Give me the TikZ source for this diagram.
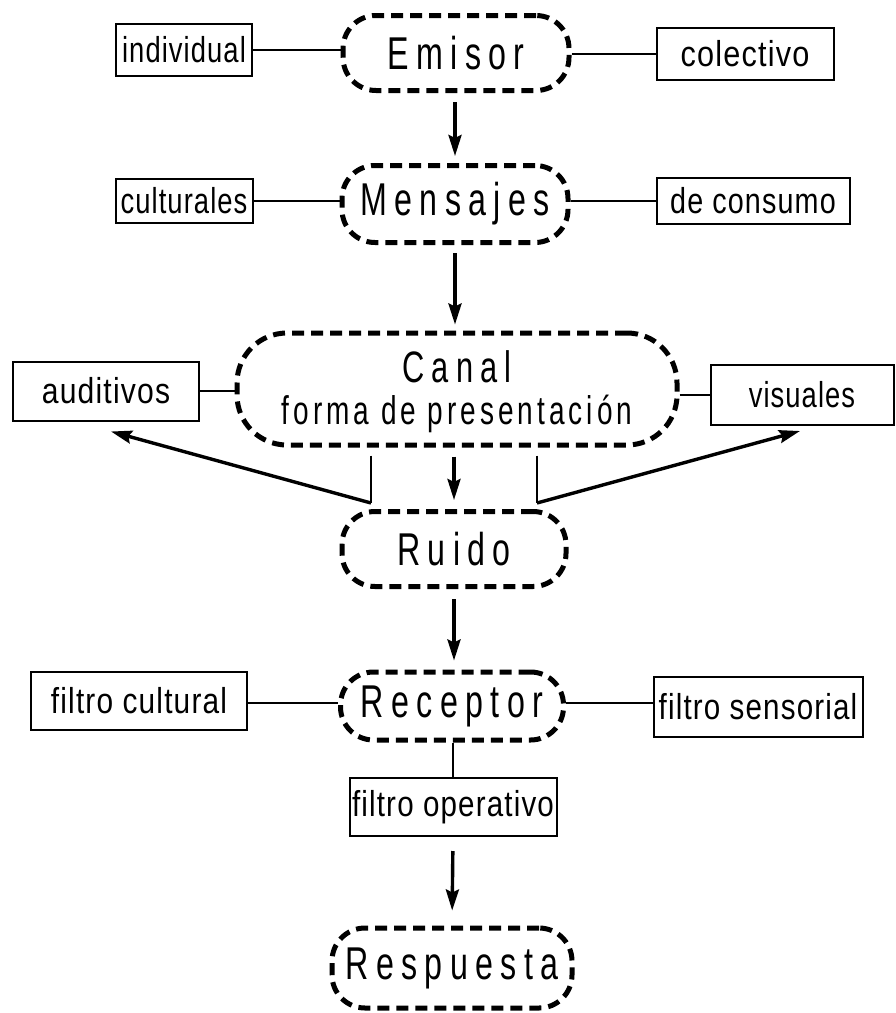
\documentclass[tikz,border=0pt]{standalone}
\usepackage{graphicx}
\usepackage{fontspec}
\setmainfont[FakeStretch=0.76,LetterSpace=3]{Liberation Sans}
\newfontfamily\bigf[FakeStretch=0.7,LetterSpace=16]{Liberation Sans}
\newfontfamily\medf[FakeStretch=0.7,LetterSpace=10]{Liberation Sans}
\usetikzlibrary{arrows.meta}
\newcommand{\hsq}[2]{\scalebox{#1}[1]{#2}}
\begin{document}
\begin{tikzpicture}[x=1pt,y=-1pt,
 main/.style={draw, line width=5pt, dash pattern=on 12pt off 7pt, rounded corners=33pt, inner sep=0pt, font=\bigf\fontsize{46}{50}\selectfont},
 lbl/.style={draw, line width=2pt, inner sep=0pt, font=\fontsize{36}{40}\selectfont},
 conn/.style={line width=2.6pt},
 arr/.style={line width=3.4pt, -{Stealth[length=21pt,width=13pt,inset=3pt]}}]
\useasboundingbox (0,0) rectangle (896,1013);

\node[main, minimum width=226, minimum height=75] (emisor) at (456,53) {Emisor};
\node[lbl, minimum width=136, minimum height=52] (individual) at (184,50) {individual};
\node[lbl, minimum width=177, minimum height=52] (colectivo) at (745,54) {\hsq{1.12}{colectivo}};

\node[main, minimum width=226, minimum height=77] (mensajes) at (455,204) {Mensajes};
\node[lbl, minimum width=137, minimum height=44] (culturales) at (184,201) {culturales};
\node[lbl, minimum width=193, minimum height=46] (consumo) at (753,201) {\hsq{1.05}{de consumo}};

\node[main, minimum width=440, minimum height=112, rounded corners=50pt] (canal) at (457,389) {};
\node[font=\bigf\fontsize{44}{48}\selectfont, inner sep=0pt] (canaltxt) at (457,367) {Canal};
\node[font=\medf\fontsize{40}{44}\selectfont, inner sep=0pt] (formatxt) at (457,414) {forma de presentación};
\node[lbl, minimum width=186, minimum height=59] (auditivos) at (106,391) {\hsq{1.1}{auditivos}};
\node[lbl, minimum width=183, minimum height=60] (visuales) at (802,395) {visuales};

\node[main, minimum width=224, minimum height=75] (ruido) at (454,549) {Ruido};

\node[main, minimum width=223, minimum height=68] (receptor) at (452,706) {Receptor};
\node[lbl, minimum width=216, minimum height=58] (fcultural) at (139,701) {\hsq{1.09}{filtro cultural}};
\node[lbl, minimum width=209, minimum height=60] (fsensorial) at (758,707) {\hsq{1.08}{filtro sensorial}};
\node[lbl, minimum width=207, minimum height=58] (foperativo) at (453,807) {\hsq{1.08}{filtro operativo}};

\node[main, minimum width=240, minimum height=80] (respuesta) at (452,968) {Respuesta};

% side connectors
\draw[conn] (individual.east) -- (individual.east -| emisor.west);
\draw[conn] (emisor.east |- colectivo.west) -- (colectivo.west);
\draw[conn] (culturales.east) -- (culturales.east -| mensajes.west);
\draw[conn] (mensajes.east |- consumo.west) -- (consumo.west);
\draw[conn] (auditivos.east) -- (auditivos.east -| canal.west);
\draw[conn] (canal.east |- visuales.west) -- (visuales.west);
\coordinate (rl) at (0,703);
\draw[conn] (fcultural.east |- rl) -- (receptor.west |- rl);
\draw[conn] (receptor.east |- rl) -- (fsensorial.west |- rl);

% vertical arrows
\draw[arr, shorten <=9pt, shorten >=7pt] (emisor.south -| mensajes.north) -- (mensajes.north);
\draw[arr, shorten <=8pt, shorten >=6pt] (mensajes.south) -- (mensajes.south |- canal.north);
\draw[arr, shorten <=9pt, shorten >=9pt] (canal.south -| ruido.north) -- (ruido.north);
\draw[arr, shorten <=10pt, shorten >=9pt] (ruido.south) -- (ruido.south |- receptor.north);
\draw[conn] (receptor.south -| foperativo.north) -- (foperativo.north);
\draw[arr, shorten <=14pt, shorten >=15pt] (foperativo.south) -- (respuesta.north);

% canal branches
\coordinate (la) at (371,503);
\coordinate (ra) at (537,503);
\draw[conn, shorten <=8pt] (canal.south -| la) -- (la);
\draw[conn, shorten <=8pt] (canal.south -| ra) -- (ra);
\draw[arr] (la) -- ([xshift=5pt,yshift=-10pt]auditivos.south);
\draw[arr] (ra) -- ([xshift=-2pt,yshift=-5pt]visuales.south);
\end{tikzpicture}
\end{document}
